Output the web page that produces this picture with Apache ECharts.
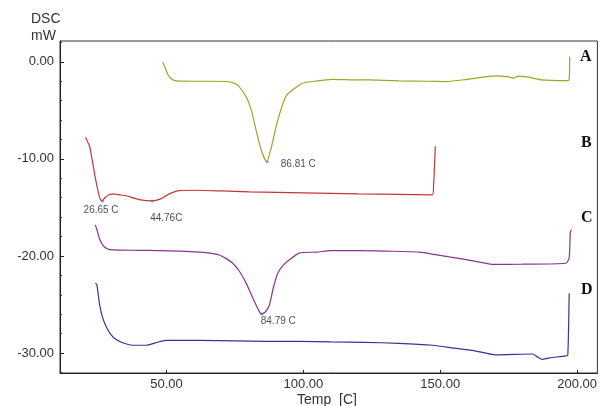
<!DOCTYPE html>
<html>
<head>
<meta charset="utf-8">
<script src="https://cdn.jsdelivr.net/npm/echarts@6/dist/echarts.min.js"></script>
<style>
    html, body { margin: 0; padding: 0; background: #fff; }
    #chart { width: 600px; height: 406px; }
</style>
</head>
<body>
<div id="chart"></div>
<script>
// 曲线数据 [温度, 热流]
const curveA = [
    [48.6, 0.0], [49.5, -0.6], [50.5, -1.3], [52, -1.8], [53.6, -1.96], [60, -2.0], [66, -2.0],
    [73, -2.05], [76, -2.4], [79.1, -3.6], [81, -5.0], [82.7, -7.0], [84.5, -9.0], [86.6, -10.3],
    [88.3, -8.8], [90.0, -6.7], [92.4, -4.4], [94, -3.4], [96.1, -2.9], [99.6, -2.2], [104, -2.0],
    [110.6, -1.8], [118, -1.85], [124, -1.86], [135, -1.96], [145, -2.0], [152, -2.03], [160, -1.8],
    [170.3, -1.44], [175, -1.55], [177, -1.7], [178, -1.5], [180, -1.5], [187, -1.86], [195.9, -1.93],
    [197.0, -1.9], [197.3, 0.55]
]
const curveB = [
    [20.4, -7.76], [21.9, -8.7], [22.8, -10.0], [23.7, -11.5], [24.6, -12.8], [25.5, -13.9], [26.4, -14.33],
    [27.5, -14.0], [29, -13.7], [30.4, -13.6], [33, -13.7], [35.3, -13.8], [40.1, -14.2], [44.8, -14.33],
    [46.5, -14.25], [48.7, -14.0], [51, -13.6], [54.7, -13.27], [60.8, -13.23], [70, -13.3], [80.3, -13.4],
    [100, -13.5], [120, -13.6], [135, -13.65], [147.1, -13.7], [147.6, -12.5], [148.2, -8.7]
]
const curveC = [
    [24.0, -16.8], [24.6, -17.3], [25.5, -18.2], [26.8, -18.9], [28.3, -19.25], [30.4, -19.38], [40, -19.42],
    [47.4, -19.45], [55, -19.5], [62.0, -19.6], [66, -19.7], [69.3, -19.9], [72, -20.3], [74.2, -20.75],
    [76.7, -21.6], [79.1, -22.8], [81.5, -24.3], [83.5, -25.5], [84.6, -25.98], [86, -25.8], [87.6, -25.05],
    [89, -23.3], [90.6, -21.8], [92.5, -21.0], [94.9, -20.4], [98.5, -19.7], [105, -19.6], [110, -19.45],
    [120.4, -19.45], [130, -19.5], [142.3, -19.6], [153.3, -20.1], [160, -20.4], [169.1, -20.86],
    [180, -20.85], [195.9, -20.75], [197.1, -20.2], [197.5, -17.6], [197.9, -17.3]
]
const curveD = [
    [24.0, -22.8], [24.6, -23.0], [25.5, -24.9], [26.5, -26.2], [28.0, -27.3], [29.7, -28.1], [31.6, -28.6],
    [34.5, -29.0], [37.7, -29.2], [42.6, -29.2], [46, -28.95], [49.9, -28.7], [55, -28.7], [62.0, -28.7],
    [75, -28.75], [86.4, -28.8], [98.5, -28.8], [110, -28.85], [122, -28.9], [135, -29.0], [147.2, -29.2],
    [155, -29.5], [163, -29.8], [170.3, -30.2], [183.7, -30.1], [185.5, -30.4], [187.3, -30.65], [190, -30.5],
    [195.9, -30.3], [196.6, -30.2], [197.1, -23.85]
]

// 峰值标注
const peaks = [[86.81, -10.3], [26.65, -14.33], [44.76, -14.33], [84.79, -25.98]]
const peakLabels = ['86.81 C', '26.65 C', '44.76C', '84.79 C']

// 刻度
const xTicks = [50, 100, 150, 200]
const yMajor = [0, -10, -20, -30]
const yMinor = [2, 0, -2, -4, -6, -8, -10, -12, -14, -16, -18, -20, -22, -24, -26, -28, -30, -32]

const curveNames = ['A', 'B', 'C', 'D']
const curveColors = ['#a3a32a', '#c4363c', '#84388c', '#31359a']

const mychart = echarts.init(document.getElementById('chart'))

// 峰值标签偏移
const labelPos = [[15, 4], [-17.5, 10.5], [-0.5, 18.8], [0.5, 9.2]]

const serifFont = 'bold 16px "Liberation Serif", "Times New Roman"'

let option = {
    animation: false,
    grid: {
        left: 60, right: 1, top: 41, bottom: 33,
        show: true, borderColor: '#333', borderWidth: 1
    },
    xAxis: {
        type: 'value',
        min: 11.1, max: 207.4,
        splitLine: { show: false },
        axisLine: { onZero: false, lineStyle: { color: '#222', width: 1 } },
        axisTick: { inside: true, length: 3, customValues: xTicks, lineStyle: { color: '#222' } },
        axisLabel: {
            customValues: xTicks,
            formatter: v => v.toFixed(2),
            color: '#333', fontSize: 13, fontFamily: 'Arial, Liberation Sans', margin: 5
        }
    },
    yAxis: [
        {
            type: 'value',
            min: -32.06, max: 2.15,
            splitLine: { show: false },
            axisLine: { show: true, onZero: false, lineStyle: { color: '#222', width: 1 } },
            axisTick: { show: true, inside: true, length: 2, customValues: yMinor, lineStyle: { color: '#333' } },
            axisLabel: {
                customValues: yMajor,
                formatter: v => v.toFixed(2),
                color: '#333', fontSize: 13, fontFamily: 'Arial, Liberation Sans', margin: 6
            }
        },
        {
            type: 'value',
            position: 'left',
            min: -32.06, max: 2.15,
            splitLine: { show: false },
            axisLine: { show: false, onZero: false },
            axisTick: { show: true, inside: true, length: 4, customValues: yMajor, lineStyle: { color: '#222' } },
            axisLabel: { show: false }
        }
    ],
    series: [curveA, curveB, curveC, curveD].map((d, i) => ({
        name: curveNames[i],
        type: 'line',
        data: d,
        showSymbol: false,
        smooth: 0.2,
        lineStyle: { color: curveColors[i], width: 1.2 }
    })).concat([{
        type: 'scatter',
        symbolSize: 3,
        itemStyle: { color: '#3cb8b0' },
        data: peaks.map((p, i) => ({
            value: p,
            label: {
                show: true,
                formatter: peakLabels[i],
                position: labelPos[i],
                align: 'left',
                verticalAlign: 'middle',
                color: '#222',
                fontSize: 10,
                fontFamily: 'Arial, Liberation Sans'
            }
        }))
    }]),
    graphic: [
        { type: 'text', left: 31, top: 12, style: { text: 'DSC', fill: '#333', font: '14px Arial' } },
        { type: 'text', left: 31, top: 29, style: { text: 'mW', fill: '#333', font: '14px Arial' } },
        { type: 'text', left: 297, top: 393, style: { text: 'Temp  [C]', fill: '#333', font: '14px Arial' } },
        { type: 'text', left: 580, top: 49, style: { text: 'A', fill: '#111', font: serifFont } },
        { type: 'text', left: 581, top: 135, style: { text: 'B', fill: '#111', font: serifFont } },
        { type: 'text', left: 581, top: 210, style: { text: 'C', fill: '#111', font: serifFont } },
        { type: 'text', left: 581, top: 282, style: { text: 'D', fill: '#111', font: serifFont } }
    ]
}

mychart.setOption(option)
</script>
</body>
</html>
